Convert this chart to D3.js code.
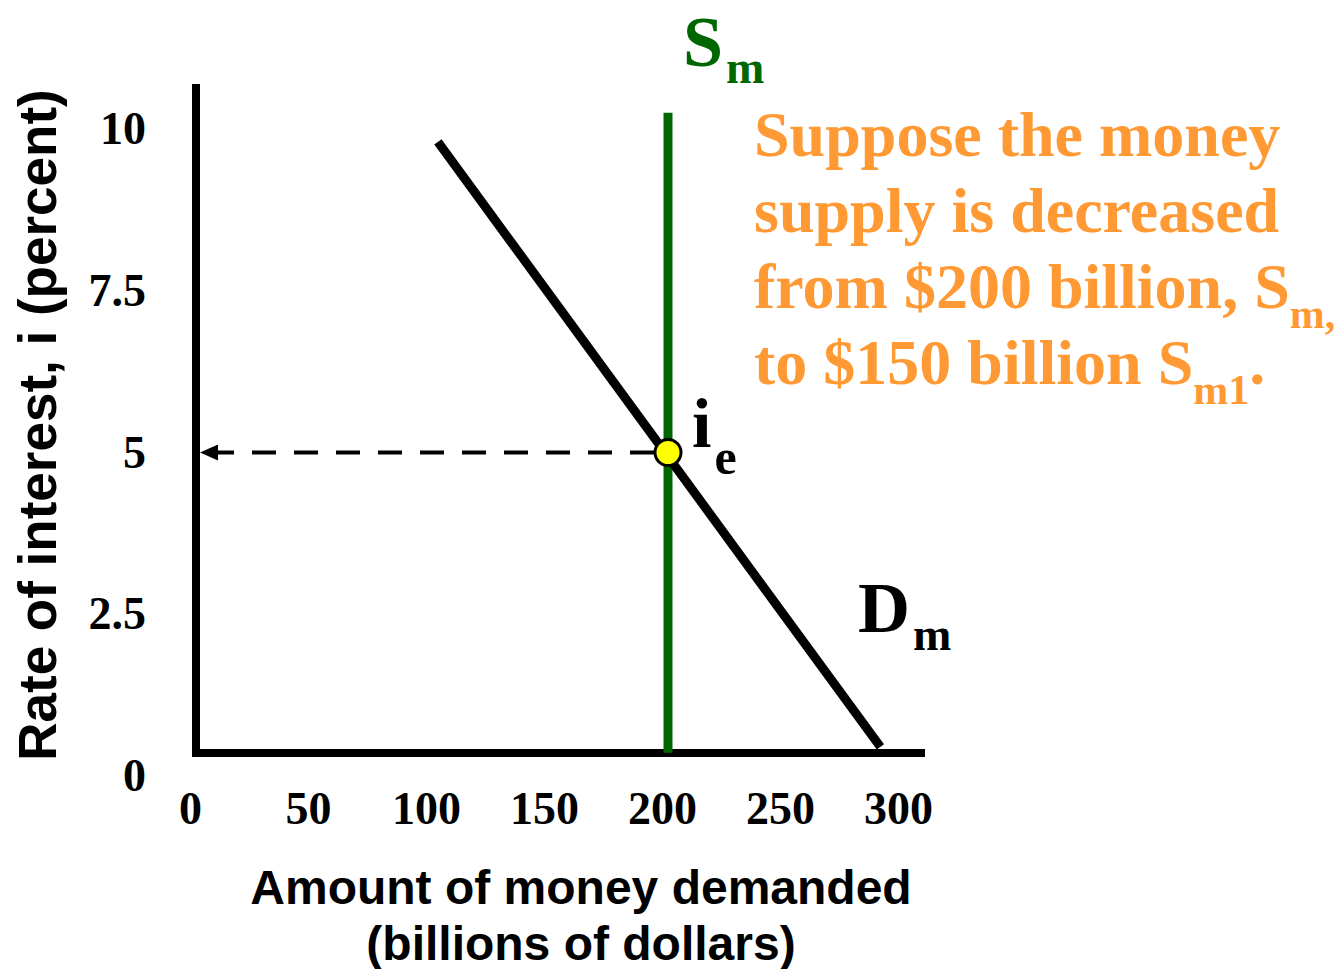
<!DOCTYPE html>
<html>
<head>
<meta charset="utf-8">
<script src="https://cdn.jsdelivr.net/npm/d3@7"></script>
<style>
  body { margin: 0; background: #fff; }
  svg { display: block; }
</style>
</head>
<body>
<div id="chart"></div>
<script>
let width = 1341
let height = 969

// data
const xTicks = [0, 50, 100, 150, 200, 250, 300]
const yTicks = [0, 2.5, 5, 7.5, 10]
const demandQty = [102.5, 290]
const demandRate = [9.8, 0.45]
const supplyQty = 200
const supplyRate = [10.25, 0.36]
const eqQty = 200
const eqRate = 5
const noteLines = [
  [['Suppose the money', false]],
  [['supply is decreased', false]],
  [['from $200 billion, S', false], ['m,', true]],
  [['to $150 billion S', false], ['m1', true], ['.', false]]
]

const green = '#006600'
const orange = '#ff9933'
const serif = '"Liberation Serif", "Times New Roman", serif'
const sans = '"Liberation Sans", Arial, sans-serif'

let svg = d3.select('#chart')
            .append('svg')
            .attr('width', width)
            .attr('height', height)

let x = d3.scaleLinear()
          .domain([0, 300])
          .range([196, 904])

let y = d3.scaleLinear()
          .domain([0, 10])
          .range([776, 129])

svg.append('defs')
    .append('marker')
    .attr('id', 'arrow')
    .attr('viewBox', '0 0 18 16')
    .attr('refX', 0)
    .attr('refY', 8)
    .attr('markerUnits', 'userSpaceOnUse')
    .attr('markerWidth', 18)
    .attr('markerHeight', 16)
    .attr('orient', 'auto')
    .append('path')
    .attr('d', 'M18,8 L0,0 L0,16 Z')
    .attr('fill', '#000')

// axis frame
svg.append('line')
    .attr('x1', x(0)).attr('x2', x(0))
    .attr('y1', 84).attr('y2', 757)
    .attr('stroke', '#000').attr('stroke-width', 8)

svg.append('line')
    .attr('x1', x(0) - 4).attr('x2', 925)
    .attr('y1', 753).attr('y2', 753)
    .attr('stroke', '#000').attr('stroke-width', 8)

// tick labels
let xAxis = svg.append('g')
    .attr('transform', 'translate(-6,753)')
    .call(d3.axisBottom(x).tickValues(xTicks).tickSize(0).tickPadding(38).tickFormat(d => d))
xAxis.select('.domain').remove()
xAxis.selectAll('text')
    .style('font-family', serif)
    .style('font-weight', 'bold')
    .style('font-size', '46px')
    .attr('fill', '#000')

let yAxis = svg.append('g')
    .attr('transform', 'translate(' + x(0) + ',0)')
    .call(d3.axisLeft(y).tickValues(yTicks).tickSize(0).tickPadding(50).tickFormat(d => d))
yAxis.select('.domain').remove()
yAxis.selectAll('text')
    .style('font-family', serif)
    .style('font-weight', 'bold')
    .style('font-size', '46px')
    .attr('fill', '#000')

// axis titles
svg.append('text')
    .attr('transform', 'translate(56,' + 425 + ') rotate(-90)')
    .attr('text-anchor', 'middle')
    .style('font-family', sans)
    .style('font-weight', 'bold')
    .style('font-size', '53px')
    .text('Rate of interest, i (percent)')

svg.append('text')
    .attr('x', 581)
    .attr('y', 904)
    .attr('text-anchor', 'middle')
    .style('font-family', sans)
    .style('font-weight', 'bold')
    .style('font-size', '48px')
    .text('Amount of money demanded')

svg.append('text')
    .attr('x', 581)
    .attr('y', 960)
    .attr('text-anchor', 'middle')
    .style('font-family', sans)
    .style('font-weight', 'bold')
    .style('font-size', '48px')
    .text('(billions of dollars)')

// dashed guide to the axis
svg.append('line')
    .attr('x1', x(eqQty) - 14)
    .attr('y1', y(eqRate))
    .attr('x2', x(0) + 22)
    .attr('y2', y(eqRate))
    .attr('stroke', '#000')
    .attr('stroke-width', 4)
    .attr('stroke-dasharray', '24,18')
    .attr('marker-end', 'url(#arrow)')

// money supply
svg.append('line')
    .attr('x1', x(supplyQty)).attr('x2', x(supplyQty))
    .attr('y1', y(supplyRate[0])).attr('y2', y(supplyRate[1]))
    .attr('stroke', green)
    .attr('stroke-width', 9)

// money demand
let demand = demandQty.map((q, i) => [q, demandRate[i]])
svg.append('path')
    .datum(demand)
    .attr('d', d3.line().x(d => x(d[0])).y(d => y(d[1])))
    .attr('fill', 'none')
    .attr('stroke', '#000')
    .attr('stroke-width', 9)

svg.append('circle')
    .attr('cx', x(eqQty))
    .attr('cy', y(eqRate))
    .attr('r', 13)
    .attr('fill', '#ffff00')
    .attr('stroke', '#000')
    .attr('stroke-width', 3)

// curve labels
function subLabel(px, py, main, sub, color, size, subSize, shift) {
    let t = svg.append('text')
        .attr('x', px)
        .attr('y', py)
        .attr('fill', color)
        .style('font-family', serif)
        .style('font-weight', 'bold')
        .style('font-size', size + 'px')
    t.append('tspan').text(main)
    t.append('tspan')
        .attr('dx', 3)
        .attr('dy', shift)
        .style('font-size', subSize + 'px')
        .text(sub)
}

subLabel(683, 66, 'S', 'm', green, 72, 46, 17)
subLabel(692, 447, 'i', 'e', '#000', 70, 50, 27)
subLabel(858, 632, 'D', 'm', '#000', 72, 46, 18)

// note
let note = svg.append('g')
    .attr('fill', orange)
    .style('font-family', serif)
    .style('font-weight', 'bold')

note.selectAll('text')
    .data(noteLines)
    .enter()
    .append('text')
    .attr('x', 754)
    .attr('y', (d, i) => 156 + i * 76)
    .style('font-size', '64px')
    .each(function(parts) {
        let t = d3.select(this)
        let shifted = false
        parts.forEach(p => {
            let sp = t.append('tspan').text(p[0])
            if (p[1]) {
                sp.attr('dy', 20).style('font-size', '42px')
                shifted = true
            } else if (shifted) {
                sp.attr('dy', -20)
                shifted = false
            }
        })
    })
</script>
</body>
</html>
